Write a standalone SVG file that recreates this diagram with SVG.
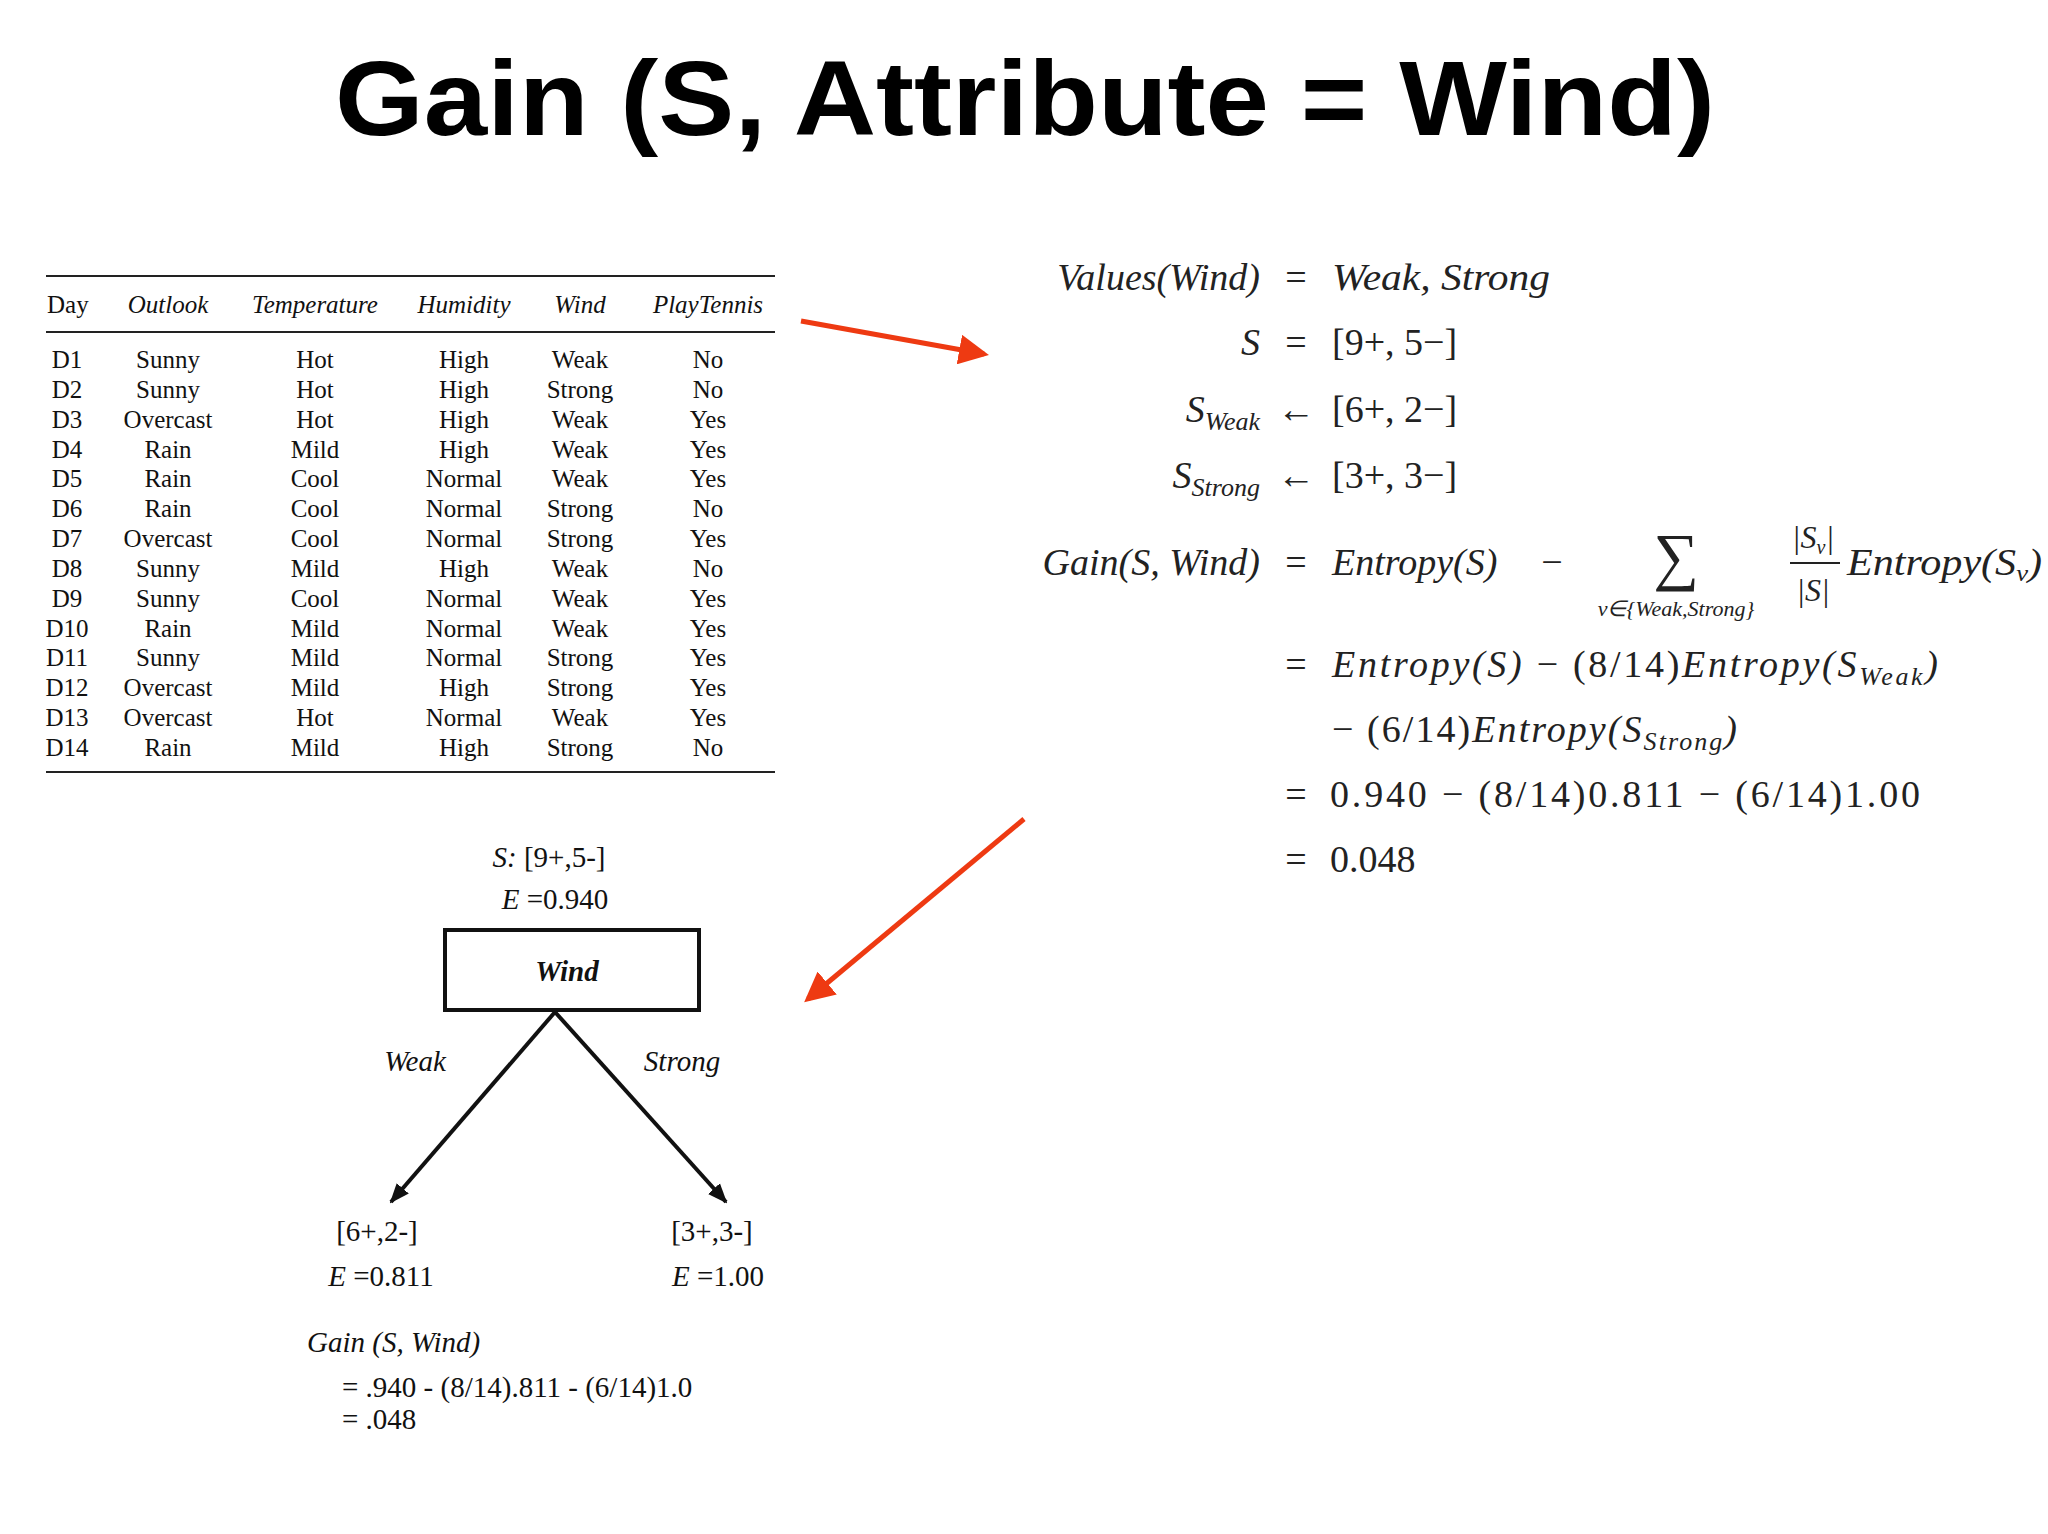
<svg xmlns="http://www.w3.org/2000/svg" width="2048" height="1534" viewBox="0 0 2048 1534">
<style>
.t{font-family:"Liberation Serif",serif;fill:#111}
.tb{font-size:25px;text-anchor:middle}
.th{font-size:25px;font-style:italic;text-anchor:middle}
.eq{font-family:"Liberation Serif",serif;font-size:38px;fill:#222}
.it{font-style:italic}
.tr{font-family:"Liberation Serif",serif;font-size:29px;fill:#111}
.red{stroke:#ee3a12;stroke-width:5;fill:none}
</style>
<defs>
<marker id="ra" markerWidth="6" markerHeight="6" refX="5" refY="3" orient="auto" markerUnits="strokeWidth"><path d="M0,0 L6,3 L0,6 z" fill="#ee3a12"/></marker>
<marker id="ba" markerWidth="5" markerHeight="5" refX="4.5" refY="2.5" orient="auto" markerUnits="strokeWidth"><path d="M0,0.5 L5,2.5 L0,4.5 z" fill="#111"/></marker>
</defs>
<rect width="2048" height="1534" fill="#fff"/>
<text x="1025" y="135" font-family="Liberation Sans,Arial,sans-serif" font-weight="bold" font-size="106" text-anchor="middle" textLength="1380" lengthAdjust="spacingAndGlyphs" fill="#000">Gain (S, Attribute = Wind)</text>

<g id="table">
<line x1="46" y1="276" x2="775" y2="276" stroke="#222" stroke-width="2"/>
<line x1="46" y1="332" x2="775" y2="332" stroke="#222" stroke-width="2"/>
<line x1="46" y1="772" x2="775" y2="772" stroke="#222" stroke-width="2"/>
<g class="t">
<text x="47" y="313" font-size="25">Day</text>
<text class="th" x="168" y="313">Outlook</text>
<text class="th" x="315" y="313">Temperature</text>
<text class="th" x="464" y="313">Humidity</text>
<text class="th" x="580" y="313">Wind</text>
<text class="th" x="708" y="313">PlayTennis</text>
</g>
<g class="t tb">
<text x="67" y="368">D1</text><text x="168" y="368">Sunny</text><text x="315" y="368">Hot</text><text x="464" y="368">High</text><text x="580" y="368">Weak</text><text x="708" y="368">No</text>
<text x="67" y="398">D2</text><text x="168" y="398">Sunny</text><text x="315" y="398">Hot</text><text x="464" y="398">High</text><text x="580" y="398">Strong</text><text x="708" y="398">No</text>
<text x="67" y="428">D3</text><text x="168" y="428">Overcast</text><text x="315" y="428">Hot</text><text x="464" y="428">High</text><text x="580" y="428">Weak</text><text x="708" y="428">Yes</text>
<text x="67" y="458">D4</text><text x="168" y="458">Rain</text><text x="315" y="458">Mild</text><text x="464" y="458">High</text><text x="580" y="458">Weak</text><text x="708" y="458">Yes</text>
<text x="67" y="487">D5</text><text x="168" y="487">Rain</text><text x="315" y="487">Cool</text><text x="464" y="487">Normal</text><text x="580" y="487">Weak</text><text x="708" y="487">Yes</text>
<text x="67" y="517">D6</text><text x="168" y="517">Rain</text><text x="315" y="517">Cool</text><text x="464" y="517">Normal</text><text x="580" y="517">Strong</text><text x="708" y="517">No</text>
<text x="67" y="547">D7</text><text x="168" y="547">Overcast</text><text x="315" y="547">Cool</text><text x="464" y="547">Normal</text><text x="580" y="547">Strong</text><text x="708" y="547">Yes</text>
<text x="67" y="577">D8</text><text x="168" y="577">Sunny</text><text x="315" y="577">Mild</text><text x="464" y="577">High</text><text x="580" y="577">Weak</text><text x="708" y="577">No</text>
<text x="67" y="607">D9</text><text x="168" y="607">Sunny</text><text x="315" y="607">Cool</text><text x="464" y="607">Normal</text><text x="580" y="607">Weak</text><text x="708" y="607">Yes</text>
<text x="67" y="637">D10</text><text x="168" y="637">Rain</text><text x="315" y="637">Mild</text><text x="464" y="637">Normal</text><text x="580" y="637">Weak</text><text x="708" y="637">Yes</text>
<text x="67" y="666">D11</text><text x="168" y="666">Sunny</text><text x="315" y="666">Mild</text><text x="464" y="666">Normal</text><text x="580" y="666">Strong</text><text x="708" y="666">Yes</text>
<text x="67" y="696">D12</text><text x="168" y="696">Overcast</text><text x="315" y="696">Mild</text><text x="464" y="696">High</text><text x="580" y="696">Strong</text><text x="708" y="696">Yes</text>
<text x="67" y="726">D13</text><text x="168" y="726">Overcast</text><text x="315" y="726">Hot</text><text x="464" y="726">Normal</text><text x="580" y="726">Weak</text><text x="708" y="726">Yes</text>
<text x="67" y="756">D14</text><text x="168" y="756">Rain</text><text x="315" y="756">Mild</text><text x="464" y="756">High</text><text x="580" y="756">Strong</text><text x="708" y="756">No</text>
</g>
</g>

<g id="equations" class="eq">
<text x="1260" y="290" text-anchor="end" class="it">Values(Wind)</text><text x="1296" y="290" text-anchor="middle">=</text><text x="1332" y="290" class="it" textLength="218" lengthAdjust="spacingAndGlyphs">Weak, Strong</text>
<text x="1260" y="355" text-anchor="end" class="it">S</text><text x="1296" y="355" text-anchor="middle">=</text><text x="1332" y="355">[9+, 5−]</text>
<text x="1260" y="422" text-anchor="end" class="it">S<tspan font-size="26" dy="8">Weak</tspan></text><text x="1296" y="422" text-anchor="middle">←</text><text x="1332" y="422">[6+, 2−]</text>
<text x="1260" y="488" text-anchor="end" class="it">S<tspan font-size="26" dy="8">Strong</tspan></text><text x="1296" y="488" text-anchor="middle">←</text><text x="1332" y="488">[3+, 3−]</text>
<text x="1260" y="575" text-anchor="end" class="it">Gain(S, Wind)</text><text x="1296" y="575" text-anchor="middle">=</text><text x="1332" y="575"><tspan class="it">Entropy(S)</tspan></text><text x="1552" y="575" text-anchor="middle">−</text>
<text x="1676" y="578" text-anchor="middle" font-size="64">∑</text>
<text x="1676" y="616" text-anchor="middle" font-size="22" class="it">v∈{Weak,Strong}</text>
<text x="1813" y="548" text-anchor="middle" font-size="32" class="it">|S<tspan font-size="20" dy="6">v</tspan><tspan dy="-6">|</tspan></text>
<line x1="1790" y1="563" x2="1840" y2="563" stroke="#222" stroke-width="2"/>
<text x="1813" y="601" text-anchor="middle" font-size="32" class="it">|S|</text>
<text x="1847" y="575" class="it" textLength="195" lengthAdjust="spacingAndGlyphs">Entropy(S<tspan font-size="24" dy="6">v</tspan><tspan dy="-6">)</tspan></text>
<text x="1296" y="677" text-anchor="middle">=</text><text x="1332" y="677" textLength="606" lengthAdjust="spacing"><tspan class="it">Entropy(S)</tspan>  −  (8/14)<tspan class="it">Entropy(S<tspan font-size="26" dy="8">Weak</tspan><tspan dy="-8">)</tspan></tspan></text>
<text x="1332" y="742" textLength="405" lengthAdjust="spacing">−  (6/14)<tspan class="it">Entropy(S<tspan font-size="26" dy="8">Strong</tspan><tspan dy="-8">)</tspan></tspan></text>
<text x="1296" y="807" text-anchor="middle">=</text><text x="1330" y="807" textLength="590" lengthAdjust="spacing">0.940  −  (8/14)0.811  −  (6/14)1.00</text>
<text x="1296" y="872" text-anchor="middle">=</text><text x="1330" y="872">0.048</text>
</g>

<g id="tree-root" class="tr">
<text x="549" y="867" text-anchor="middle"><tspan class="it">S:</tspan> [9+,5-]</text>
<text x="555" y="909" text-anchor="middle"><tspan class="it">E</tspan> =0.940</text>
<rect x="445" y="930" width="254" height="80" fill="none" stroke="#111" stroke-width="4"/>
<text x="567" y="981" text-anchor="middle" class="it" font-weight="bold">Wind</text>
</g>
<g id="tree-weak" class="tr">
<text x="377" y="1241" text-anchor="middle">[6+,2-]</text>
<text x="381" y="1286" text-anchor="middle"><tspan class="it">E</tspan> =0.811</text>
</g>
<g id="tree-strong" class="tr">
<text x="712" y="1241" text-anchor="middle">[3+,3-]</text>
<text x="718" y="1286" text-anchor="middle"><tspan class="it">E</tspan> =1.00</text>
</g>
<g id="gain-note" class="tr">
<text x="307" y="1352" class="it">Gain (S, Wind)</text>
<text x="342" y="1397">= .940 - (8/14).811 - (6/14)1.0</text>
<text x="342" y="1429">= .048</text>
</g>

<g id="connectors">
<line x1="555" y1="1012" x2="391" y2="1202" stroke="#111" stroke-width="4" marker-end="url(#ba)"/>
<line x1="555" y1="1012" x2="726" y2="1202" stroke="#111" stroke-width="4" marker-end="url(#ba)"/>
<text x="415" y="1071" text-anchor="middle" class="tr it">Weak</text>
<text x="682" y="1071" text-anchor="middle" class="tr it">Strong</text>
<line x1="801" y1="321" x2="984" y2="354" class="red" marker-end="url(#ra)"/>
<line x1="1024" y1="819" x2="808" y2="999" class="red" marker-end="url(#ra)"/>
</g>
</svg>
